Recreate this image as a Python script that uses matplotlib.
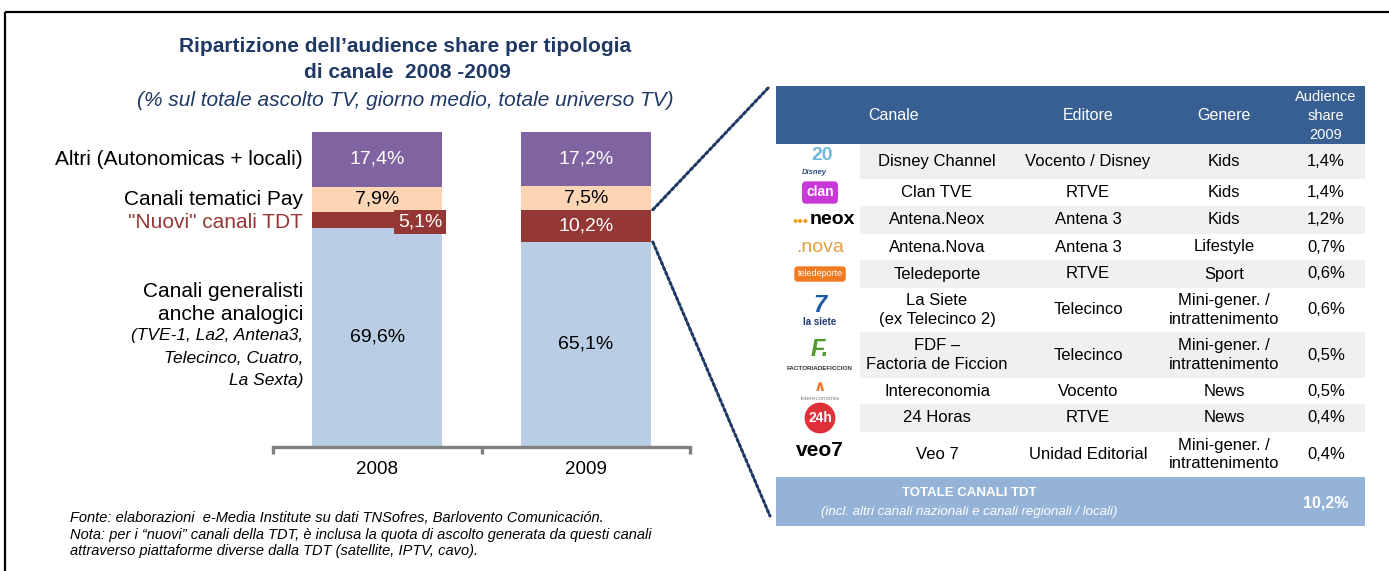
import matplotlib
matplotlib.use('Agg')
import matplotlib.pyplot as plt
from matplotlib import font_manager
from matplotlib.patches import Rectangle, ConnectionPatch

# --- data -------------------------------------------------------------
years = ['2008', '2009']
generalisti = [69.6, 65.1]
nuovi_tdt = [5.1, 10.2]
tematici_pay = [7.9, 7.5]
altri = [17.4, 17.2]

canali = ['Disney Channel', 'Clan TVE', 'Antena.Neox', 'Antena.Nova', 'Teledeporte',
          'La Siete\n(ex Telecinco 2)', 'FDF –\nFactoria de Ficcion', 'Intereconomia',
          '24 Horas', 'Veo 7']
editori = ['Vocento / Disney', 'RTVE', 'Antena 3', 'Antena 3', 'RTVE', 'Telecinco',
           'Telecinco', 'Vocento', 'RTVE', 'Unidad Editorial']
generi = ['Kids', 'Kids', 'Kids', 'Lifestyle', 'Sport',
          'Mini-gener. /\nintrattenimento', 'Mini-gener. /\nintrattenimento', 'News', 'News',
          'Mini-gener. /\nintrattenimento']
share_2009 = [1.4, 1.4, 1.2, 0.7, 0.6, 0.6, 0.5, 0.5, 0.4, 0.4]
totale_tdt = 10.2


def pct(v):
    return f'{v:.1f}%'.replace('.', ',')


available = {f.name for f in font_manager.fontManager.ttflist}
NARROW = 'Liberation Sans Narrow' if 'Liberation Sans Narrow' in available else 'Liberation Sans'
plt.rcParams['font.family'] = [NARROW, 'DejaVu Sans']

NAVY = '#1F3864'
PURPLE = '#8064A2'
PEACH = '#FCD5B5'
RED = '#953735'
LBLUE = '#B9CDE5'

W, H = 1389, 571
fig = plt.figure(figsize=(W / 100, H / 100), dpi=100)

# overlay in pixel coordinates for layout (frame, titles, table)
ov = fig.add_axes([0, 0, 1, 1])
ov.set_xlim(0, W)
ov.set_ylim(H, 0)
ov.axis('off')

# frame
ov.plot([5, W], [12, 12], color='black', lw=1.6, solid_capstyle='butt')
ov.plot([5, 5], [12, H], color='black', lw=1.6, solid_capstyle='butt')

# titles
ov.text(405, 47, 'Ripartizione dell\u2019audience share per tipologia', ha='center', va='center',
        fontsize=15, fontweight='bold', color=NAVY)
ov.text(407, 72, 'di canale  2008 -2009', ha='center', va='center',
        fontsize=15, fontweight='bold', color=NAVY)
ov.text(405, 101, '(% sul totale ascolto TV, giorno medio, totale universo TV)', ha='center',
        va='center', fontsize=15, style='italic', color=NAVY)

# --- stacked bars -------------------------------------------------------
ax = fig.add_axes([273 / W, (H - 447) / H, (690 - 273) / W, 315 / H])
ax.set_facecolor('none')
x = [0, 1]
bw = 0.623
stack = [(generalisti, LBLUE, 'black'), (nuovi_tdt, RED, 'white'),
         (tematici_pay, PEACH, 'black'), (altri, PURPLE, 'white')]
bottoms = [0, 0]
centers = []
for vals, col, tcol in stack:
    ax.bar(x, vals, width=bw, bottom=bottoms, color=col, edgecolor='none')
    mids = [b + v / 2 for b, v in zip(bottoms, vals)]
    centers.append(mids)
    for i, (m, v) in enumerate(zip(mids, vals)):
        if col == RED and i == 0:
            ax.text(x[i] + bw / 2, m - 0.6, pct(v), ha='right', va='center', fontsize=14,
                    color='white', bbox=dict(fc=RED, ec='none', pad=2.5))
        else:
            ax.text(x[i], m, pct(v), ha='center', va='center', fontsize=14, color=tcol)
    bottoms = [b + v for b, v in zip(bottoms, vals)]

ax.set_xlim(-0.5, 1.5)
ax.set_ylim(0, 100)
for s in ['left', 'right', 'top']:
    ax.spines[s].set_visible(False)
ax.spines['bottom'].set_color('#808080')
ax.spines['bottom'].set_linewidth(2.4)
ax.set_yticks([])
ax.set_xticks(x)
ax.set_xticklabels(years, fontsize=13.5)
ax.tick_params(axis='x', which='major', length=0, pad=10)
ax.set_xticks([-0.5, 0.5, 1.5], minor=True)
ax.tick_params(axis='x', which='minor', length=5, width=2.4, color='#808080', direction='out')

# category labels on the left, anchored to the 2008 segments
lab_x = 303
ax.annotate('Altri (Autonomicas + locali)', xy=(lab_x, centers[3][0]),
            xycoords=('figure pixels', 'data'), ha='right', va='center', fontsize=15)
ax.annotate('Canali tematici Pay', xy=(lab_x, centers[2][0]),
            xycoords=('figure pixels', 'data'), ha='right', va='center', fontsize=15)
ax.annotate('"Nuovi" canali TDT', xy=(lab_x, centers[1][0] - 1), xycoords=('figure pixels', 'data'),
            ha='right', va='center', fontsize=15, color=RED)
ax.annotate('Canali generalisti\nanche analogici', xy=(lab_x, centers[0][0]),
            xycoords=('figure pixels', 'data'), xytext=(0, 13), textcoords='offset pixels',
            ha='right', va='bottom', fontsize=15, linespacing=1.3)
ax.annotate('(TVE-1, La2, Antena3,\nTelecinco, Cuatro,\nLa Sexta)', xy=(lab_x, centers[0][0]),
            xycoords=('figure pixels', 'data'), xytext=(0, 9), textcoords='offset pixels',
            ha='right', va='top', fontsize=12.5, style='italic', linespacing=1.6)

# notes
ov.text(70, 518, 'Fonte: elaborazioni  e-Media Institute su dati TNSofres, Barlovento Comunicación.',
        ha='left', va='center', fontsize=10.5, style='italic')
ov.text(70, 535, 'Nota: per i \u201cnuovi\u201d canali della TDT, \u00e8 inclusa la quota di ascolto generata '
        'da questi canali', ha='left', va='center', fontsize=10.5, style='italic')
ov.text(70, 551, 'attraverso piattaforme diverse dalla TDT (satellite, IPTV, cavo).',
        ha='left', va='center', fontsize=10.5, style='italic')

# --- table --------------------------------------------------------------
T_LEFT, T_RIGHT, G_LEFT = 776, 1365, 860
HEAD_TOP, HEAD_BOT = 86, 144
row_h = [35, 27, 28, 26, 28, 44, 46, 26, 28, 45]
cx_logo, cx_can, cx_ed, cx_gen, cx_sh = 820, 937, 1088, 1224, 1326

ov.add_patch(Rectangle((T_LEFT, HEAD_TOP), T_RIGHT - T_LEFT, HEAD_BOT - HEAD_TOP,
                       fc='#375F92', ec='none'))
ov.text(894, 116, 'Canale', ha='center', va='center', color='white', fontsize=11.5)
ov.text(cx_ed, 116, 'Editore', ha='center', va='center', color='white', fontsize=11.5)
ov.text(cx_gen, 116, 'Genere', ha='center', va='center', color='white', fontsize=11.5)
ov.text(cx_sh, 116, 'Audience\nshare\n2009', ha='center', va='center', color='white',
        fontsize=10.5, linespacing=1.45)

# channel logos, drawn as styled text: (dx, dy, text, style)
logos = [
    [(2, -6, '20', dict(color='#6FB8DA', fontsize=14, fontweight='bold')),
     (-6, 11, 'Disney', dict(color='#2C4F7C', fontsize=5.5, style='italic', fontweight='bold'))],
    [(0, 0, 'clan', dict(color='white', fontsize=10, fontweight='bold',
                         bbox=dict(boxstyle='round,pad=0.3', fc='#C838D8', ec='none')))],
    [(-20, 2, '\u2022\u2022\u2022', dict(color='#F39A1E', fontsize=11)),
     (12, 0, 'neox', dict(color='black', fontsize=14, fontweight='bold'))],
    [(0, 0, '.nova', dict(color='#E3A040', fontsize=14))],
    [(0, 0, 'teledeporte', dict(color='white', fontsize=6.5,
                                bbox=dict(boxstyle='round,pad=0.35', fc='#F07A20', ec='none')))],
    [(0, -5, '7', dict(color='#1E5AA8', fontsize=17, fontweight='bold', style='italic')),
     (0, 12, 'la siete', dict(color='#1E3A6E', fontsize=7, fontweight='bold'))],
    [(0, -5, 'F.', dict(color='#4E9A2A', fontsize=17, fontweight='bold', style='italic')),
     (0, 13, 'FACTORIADEFICCION', dict(color='#333333', fontsize=4.5, fontweight='bold'))],
    [(0, -4, '\u2227', dict(color='#E8782A', fontsize=11, fontweight='bold')),
     (0, 8, 'intereconomia', dict(color='#888888', fontsize=4.5))],
    [(0, 0, '24h', dict(color='white', fontsize=10, fontweight='bold',
                        bbox=dict(boxstyle='circle,pad=0.25', fc='#E0303A', ec='none')))],
    [(0, -4, 'veo7', dict(color='black', fontsize=15, fontweight='bold'))],
]

y = HEAD_BOT
for i, h in enumerate(row_h):
    if i % 2 == 0:
        ov.add_patch(Rectangle((G_LEFT, y), T_RIGHT - G_LEFT, h, fc='#F0F0F0', ec='none'))
    yc = y + h / 2
    ov.text(cx_can, yc, canali[i], ha='center', va='center', fontsize=12, linespacing=1.3)
    ov.text(cx_ed, yc, editori[i], ha='center', va='center', fontsize=12)
    ov.text(cx_gen, yc, generi[i], ha='center', va='center', fontsize=12, linespacing=1.3)
    ov.text(cx_sh, yc, pct(share_2009[i]), ha='center', va='center', fontsize=12)
    for dx, dy, txt, kw in logos[i]:
        ov.text(cx_logo + dx, yc + dy, txt, ha='center', va='center', **kw)
    y += h

FOOT_TOP, FOOT_BOT = 477, 526
ov.add_patch(Rectangle((T_LEFT, FOOT_TOP), T_RIGHT - T_LEFT, FOOT_BOT - FOOT_TOP,
                       fc='#95B3D7', ec='none'))
ov.text(969, 493, 'TOTALE CANALI TDT', ha='center', va='center', color='white',
        fontsize=9.5, fontweight='bold')
ov.text(969, 512, '(incl. altri canali nazionali e canali regionali / locali)', ha='center',
        va='center', color='white', fontsize=9.5, style='italic')
ov.text(cx_sh, 503, pct(totale_tdt), ha='center', va='center', color='white',
        fontsize=11.5, fontweight='bold')

# dotted connectors from the 2009 TDT segment to the table
for ya, yb in [(generalisti[1] + nuovi_tdt[1], HEAD_TOP), (generalisti[1], FOOT_BOT - 10)]:
    con = ConnectionPatch(xyA=(x[1] + bw / 2 + 0.01, ya), coordsA=ax.transData,
                          xyB=(T_LEFT - 6, yb), coordsB=ov.transData,
                          color=NAVY, lw=2.2, linestyle=(0, (0.9, 0.9)))
    fig.add_artist(con)

fig.savefig('out.png', dpi=100)
